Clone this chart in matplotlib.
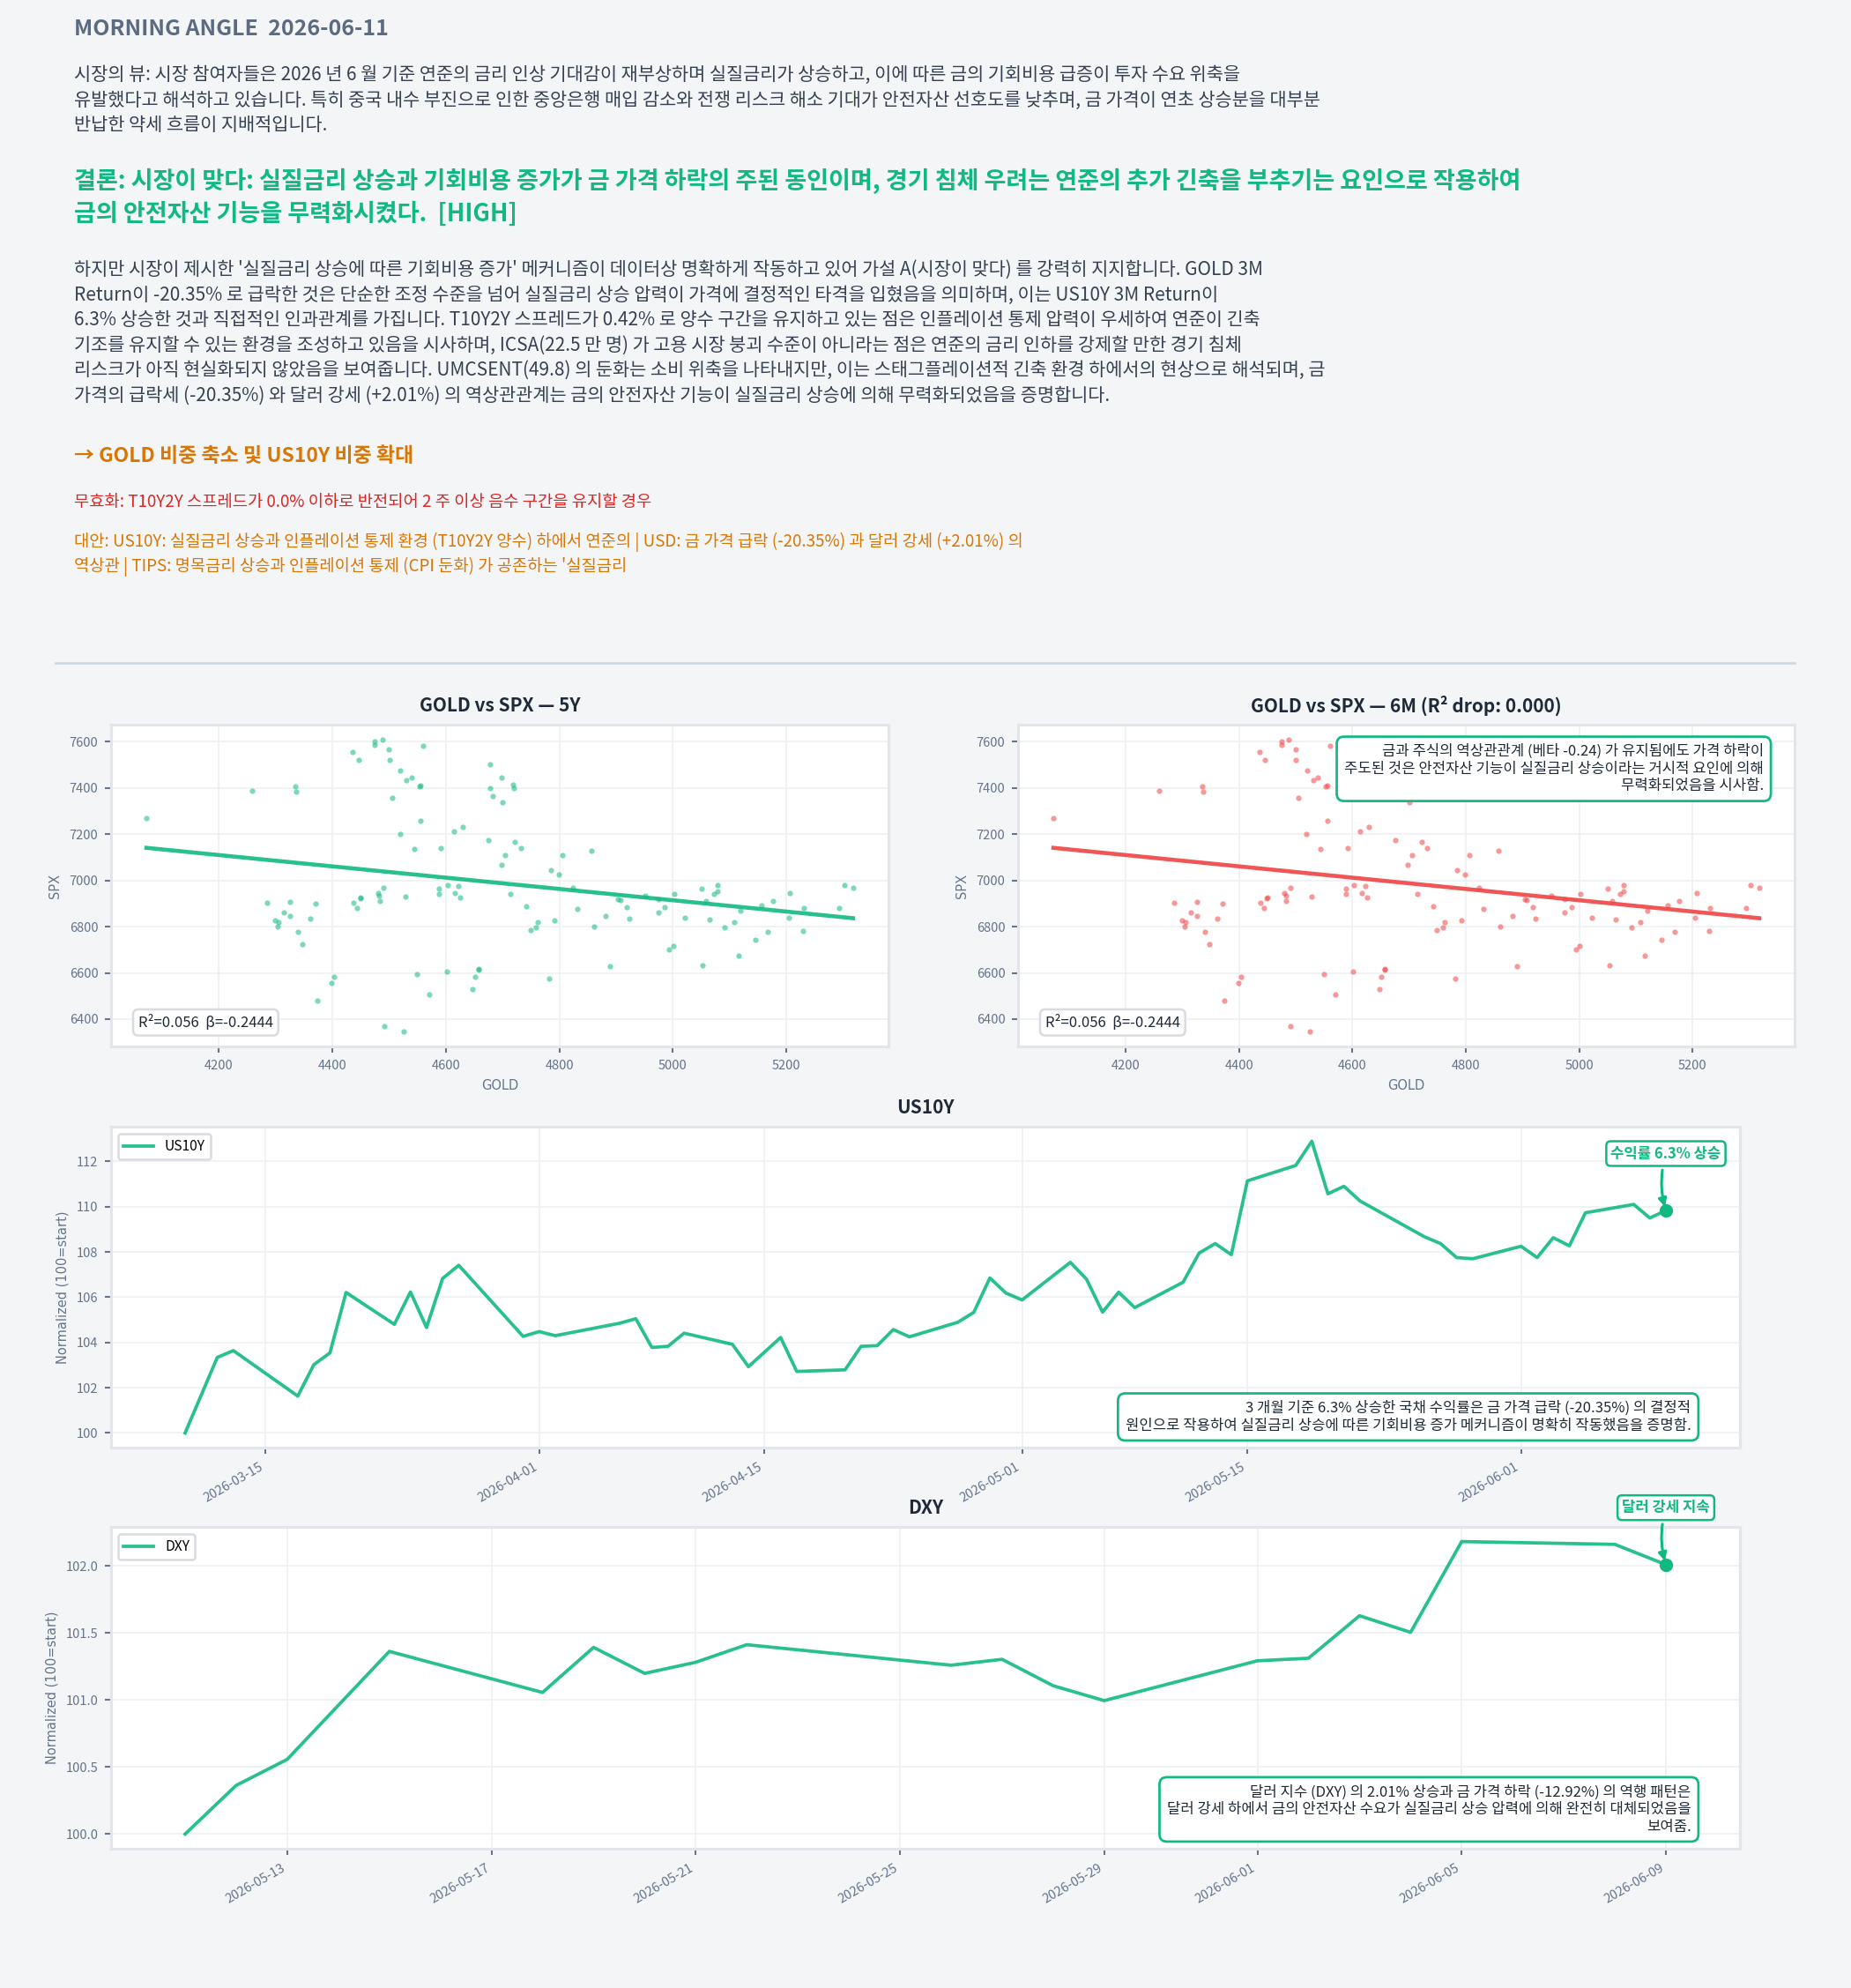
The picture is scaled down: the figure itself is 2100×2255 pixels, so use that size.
import matplotlib
matplotlib.use("Agg")
import matplotlib.pyplot as plt
import matplotlib.dates as mdates
import numpy as np
import pandas as pd

plt.rcParams['font.family'] = ['Noto Sans CJK KR', 'DejaVu Sans']

# ---- chart data ----
gold = [4072, 4259, 4335, 4336, 4285, 4299, 4305, 4304, 4314, 4325,
        4325, 4339, 4347, 4361, 4370, 4374, 4398, 4403, 4436, 4446,
        4475, 4475, 4488, 4499, 4500, 4505, 4520, 4531, 4539, 4553,
        4555, 4560, 4555, 4519, 4544, 4437, 4444, 4449, 4450, 4480,
        4482, 4483, 4490, 4528, 4491, 4525, 4549, 4570, 4591, 4588,
        4588, 4603, 4614, 4616, 4622, 4625, 4629, 4601, 4651, 4647,
        4657, 4657, 4675, 4678, 4678, 4682, 4698, 4700, 4698, 4705,
        4719, 4720, 4722, 4732, 4714, 4742, 4749, 4759, 4762, 4792,
        4782, 4785, 4799, 4806, 4824, 4831, 4857, 4861, 4882, 4890,
        4904, 4908, 4919, 4923, 4951, 4975, 4975, 4986, 4994, 5001,
        5003, 5022, 5051, 5053, 5059, 5065, 5072, 5079, 5079, 5092,
        5108, 5116, 5120, 5146, 5156, 5168, 5176, 5205, 5207, 5230,
        5231, 5294, 5302, 5318]

spx = [7268, 7387, 7408, 7385, 6903, 6829, 6819, 6802, 6861, 6906,
       6848, 6777, 6723, 6836, 6898, 6479, 6558, 6583, 7555, 7522,
       7601, 7585, 7611, 7566, 7521, 7356, 7475, 7435, 7447, 7407,
       7410, 7582, 7260, 7203, 7138, 6904, 6881, 6923, 6926, 6946,
       6933, 6912, 6968, 6932, 6371, 6345, 6593, 6508, 7141, 6965,
       6941, 6979, 7211, 6946, 6978, 6928, 7231, 6607, 6585, 6530,
       6615, 6619, 7175, 7502, 7401, 7366, 7445, 7338, 7066, 7110,
       7414, 7400, 7166, 7139, 6941, 6887, 6784, 6797, 6819, 6826,
       6577, 7043, 7025, 7111, 6969, 6877, 7128, 6800, 6845, 6627,
       6920, 6915, 6885, 6834, 6933, 6918, 6863, 6884, 6702, 6718,
       6943, 6838, 6966, 6634, 6912, 6833, 6942, 6980, 6952, 6797,
       6819, 6674, 6871, 6742, 6892, 6778, 6910, 6839, 6947, 6783,
       6880, 6882, 6979, 6970]

us10y_dates = ["2026-03-10", "2026-03-12", "2026-03-13", "2026-03-17",
               "2026-03-18", "2026-03-19", "2026-03-20", "2026-03-23",
               "2026-03-24", "2026-03-25", "2026-03-26", "2026-03-27",
               "2026-03-31", "2026-04-01", "2026-04-02", "2026-04-06",
               "2026-04-07", "2026-04-08", "2026-04-09", "2026-04-10",
               "2026-04-13", "2026-04-14", "2026-04-16", "2026-04-17",
               "2026-04-20", "2026-04-21", "2026-04-22", "2026-04-23",
               "2026-04-24", "2026-04-27", "2026-04-28", "2026-04-29",
               "2026-04-30", "2026-05-01", "2026-05-04", "2026-05-05",
               "2026-05-06", "2026-05-07", "2026-05-08", "2026-05-11",
               "2026-05-12", "2026-05-13", "2026-05-14", "2026-05-15",
               "2026-05-18", "2026-05-19", "2026-05-20", "2026-05-21",
               "2026-05-22", "2026-05-26", "2026-05-27", "2026-05-28",
               "2026-05-29", "2026-06-01", "2026-06-02", "2026-06-03",
               "2026-06-04", "2026-06-05", "2026-06-08", "2026-06-09",
               "2026-06-10"]
us10y_values = [100.00, 103.34, 103.64, 101.63,
                103.02, 103.54, 106.21, 104.80,
                106.23, 104.66, 106.83, 107.41,
                104.27, 104.48, 104.30, 104.85,
                105.05, 103.78, 103.83, 104.41,
                103.92, 102.93, 104.22, 102.72,
                102.79, 103.83, 103.86, 104.57,
                104.25, 104.89, 105.33, 106.85,
                106.18, 105.88, 107.54, 106.80,
                105.34, 106.22, 105.54, 106.66,
                107.95, 108.37, 107.88, 111.14,
                111.82, 112.89, 110.57, 110.90,
                110.25, 108.67, 108.37, 107.75,
                107.70, 108.25, 107.75, 108.63,
                108.27, 109.73, 110.10, 109.50,
                109.83]

dxy_dates = ["2026-05-11", "2026-05-12", "2026-05-13", "2026-05-15",
             "2026-05-18", "2026-05-19", "2026-05-20", "2026-05-21",
             "2026-05-22", "2026-05-26", "2026-05-27", "2026-05-28",
             "2026-05-29", "2026-06-01", "2026-06-02", "2026-06-03",
             "2026-06-04", "2026-06-05", "2026-06-08", "2026-06-09"]
dxy_values = [100.000, 100.363, 100.557, 101.362,
              101.056, 101.392, 101.198, 101.281,
              101.412, 101.259, 101.303, 101.106,
              100.995, 101.292, 101.311, 101.628,
              101.504, 102.181, 102.160, 102.009]

# ---- text ----
header_title = "MORNING ANGLE  2026-06-11"
view_lines = [
    "시장의 뷰: 시장 참여자들은 2026 년 6 월 기준 연준의 금리 인상 기대감이 재부상하며 실질금리가 상승하고, 이에 따른 금의 기회비용 급증이 투자 수요 위축을",
    "유발했다고 해석하고 있습니다. 특히 중국 내수 부진으로 인한 중앙은행 매입 감소와 전쟁 리스크 해소 기대가 안전자산 선호도를 낮추며, 금 가격이 연초 상승분을 대부분",
    "반납한 약세 흐름이 지배적입니다.",
]
verdict_lines = [
    "결론: 시장이 맞다: 실질금리 상승과 기회비용 증가가 금 가격 하락의 주된 동인이며, 경기 침체 우려는 연준의 추가 긴축을 부추기는 요인으로 작용하여",
    "금의 안전자산 기능을 무력화시켰다.  [HIGH]",
]
body_lines = [
    "하지만 시장이 제시한 '실질금리 상승에 따른 기회비용 증가' 메커니즘이 데이터상 명확하게 작동하고 있어 가설 A(시장이 맞다) 를 강력히 지지합니다. GOLD 3M",
    "Return이 -20.35% 로 급락한 것은 단순한 조정 수준을 넘어 실질금리 상승 압력이 가격에 결정적인 타격을 입혔음을 의미하며, 이는 US10Y 3M Return이",
    "6.3% 상승한 것과 직접적인 인과관계를 가집니다. T10Y2Y 스프레드가 0.42% 로 양수 구간을 유지하고 있는 점은 인플레이션 통제 압력이 우세하여 연준이 긴축",
    "기조를 유지할 수 있는 환경을 조성하고 있음을 시사하며, ICSA(22.5 만 명) 가 고용 시장 붕괴 수준이 아니라는 점은 연준의 금리 인하를 강제할 만한 경기 침체",
    "리스크가 아직 현실화되지 않았음을 보여줍니다. UMCSENT(49.8) 의 둔화는 소비 위축을 나타내지만, 이는 스태그플레이션적 긴축 환경 하에서의 현상으로 해석되며, 금",
    "가격의 급락세 (-20.35%) 와 달러 강세 (+2.01%) 의 역상관관계는 금의 안전자산 기능이 실질금리 상승에 의해 무력화되었음을 증명합니다.",
]
action_line = "→ GOLD 비중 축소 및 US10Y 비중 확대"
invalid_line = "무효화: T10Y2Y 스프레드가 0.0% 이하로 반전되어 2 주 이상 음수 구간을 유지할 경우"
alt_lines = [
    "대안: US10Y: 실질금리 상승과 인플레이션 통제 환경 (T10Y2Y 양수) 하에서 연준의 | USD: 금 가격 급락 (-20.35%) 과 달러 강세 (+2.01%) 의",
    "역상관 | TIPS: 명목금리 상승과 인플레이션 통제 (CPI 둔화) 가 공존하는 '실질금리",
]

scatter_titles = ["GOLD vs SPX — 5Y", "GOLD vs SPX — 6M (R² drop: 0.000)"]
fit_label = "R²=0.056  β=-0.2444"
scatter_note = ("금과 주식의 역상관관계 (베타 -0.24) 가 유지됨에도 가격 하락이\n"
                "주도된 것은 안전자산 기능이 실질금리 상승이라는 거시적 요인에 의해\n"
                "무력화되었음을 시사함.")
us10y_note = ("3 개월 기준 6.3% 상승한 국채 수익률은 금 가격 급락 (-20.35%) 의 결정적\n"
              "원인으로 작용하여 실질금리 상승에 따른 기회비용 증가 메커니즘이 명확히 작동했음을 증명함.")
us10y_tag = "수익률 6.3% 상승"
dxy_note = ("달러 지수 (DXY) 의 2.01% 상승과 금 가격 하락 (-12.92%) 의 역행 패턴은\n"
            "달러 강세 하에서 금의 안전자산 수요가 실질금리 상승 압력에 의해 완전히 대체되었음을\n"
            "보여줌.")
dxy_tag = "달러 강세 지속"

BG = "#f4f5f7"
GREEN = "#10b981"
RED = "#ef4444"
SLATE = "#64748b"
INK = "#374151"

W, H = 2100, 2255


def style_axes(ax):
    """Common look for every panel."""
    ax.set_facecolor("white")
    for s in ax.spines.values():
        s.set_color("#e3e5ea")
        s.set_linewidth(1.5)
    ax.grid(True, color="#eef0f3", lw=0.8)
    ax.set_axisbelow(True)
    ax.tick_params(colors=SLATE, labelcolor=SLATE, labelsize=7,
                   length=3.5, width=1)


def put_line(text, ypx, size, color, weight="normal"):
    """Place one header line, y given in pixels from the top."""
    fig.text(84 / W, 1 - ypx / H, text, fontsize=size, color=color,
             fontweight=weight, va="center", ha="left")


def draw_scatter(ax, color, title, note=None):
    style_axes(ax)
    x = np.array(gold, dtype=float)
    y = np.array(spx, dtype=float)
    ax.scatter(x, y, s=9, color=color, alpha=0.55, linewidths=0)
    slope, intercept = np.polyfit(x, y, 1)
    xs = np.array([x.min(), x.max()])
    ax.plot(xs, slope * xs + intercept, color=color, lw=2.2, alpha=0.9)
    ax.set_title(title, fontsize=10, fontweight="bold", color="#1f2937",
                 pad=7)
    ax.set_xlabel("GOLD", fontsize=7, color=SLATE, family="DejaVu Sans")
    ax.set_ylabel("SPX", fontsize=7, color=SLATE, family="DejaVu Sans")
    ax.text(0.035, 0.05, fit_label, transform=ax.transAxes, fontsize=8,
            color="#1f2937", ha="left", va="bottom",
            bbox=dict(boxstyle="round,pad=0.35", fc="white", ec="#d8dbe1",
                      lw=1.2))
    if note:
        ax.text(0.96, 0.94, note, transform=ax.transAxes, fontsize=8,
                color="#1f2937", ha="right", va="top", multialignment="right",
                bbox=dict(boxstyle="round,pad=0.5", fc="white", ec=GREEN,
                          lw=1.3))


def draw_line_panel(ax, dates, values, name, note, tag, locator):
    style_axes(ax)
    d = mdates.date2num(pd.to_datetime(dates))
    ax.plot(d, values, color=GREEN, lw=1.8, alpha=0.9, label=name)
    ax.scatter([d[-1]], [values[-1]], s=40, color=GREEN, zorder=5)
    ax.annotate(tag, xy=(d[-1], values[-1]), xytext=(0, 31),
                textcoords="offset points", ha="center", va="center",
                fontsize=8, fontweight="bold", color=GREEN,
                bbox=dict(boxstyle="round,pad=0.3", fc="white", ec=GREEN,
                          lw=1.2),
                arrowprops=dict(arrowstyle="-|>", color=GREEN, lw=1.5,
                                mutation_scale=9,
                                connectionstyle="arc3,rad=0.15"),
                annotation_clip=False)
    ax.text(0.97, 0.045, note, transform=ax.transAxes, fontsize=8,
            color="#1f2937", ha="right", va="bottom", multialignment="right",
            bbox=dict(boxstyle="round,pad=0.5", fc="white", ec=GREEN, lw=1.3))
    ax.set_title(name, fontsize=10, fontweight="bold", color="#1f2937",
                 pad=7)
    ax.set_ylabel("Normalized (100=start)", fontsize=7, color=SLATE,
                  family="DejaVu Sans")
    ax.xaxis.set_major_locator(locator)
    ax.xaxis.set_major_formatter(mdates.DateFormatter("%Y-%m-%d"))
    for lab in ax.get_xticklabels():
        lab.set_rotation(30)
        lab.set_ha("right")
    leg = ax.legend(loc="upper left", fontsize=7.5, frameon=True,
                    facecolor="white", edgecolor="#d8dbe1", framealpha=1,
                    handlelength=2.2)
    leg.get_frame().set_linewidth(1.2)


fig = plt.figure(figsize=(W / 150, H / 150), dpi=150, facecolor=BG)

put_line(header_title, 33, 12, "#5b6b82", "bold")
for i, line in enumerate(view_lines):
    put_line(line, 85 + 28.5 * i, 10, INK)
for i, line in enumerate(verdict_lines):
    put_line(line, 205 + 38 * i, 13, GREEN, "bold")
for i, line in enumerate(body_lines):
    put_line(line, 306 + 28.5 * i, 10, INK)
put_line(action_line, 518, 11, "#d97706", "bold")
put_line(invalid_line, 570, 9, "#dc2626")
for i, line in enumerate(alt_lines):
    put_line(line, 615 + 28 * i, 9, "#d97706")

fig.add_artist(plt.Line2D([63 / W, 2036 / W], [1 - 752 / H, 1 - 752 / H],
                          color="#cbd5e1", lw=1.2))

ax1 = fig.add_axes([126 / W, 1 - 1187 / H, 882 / W, 365 / H])
ax2 = fig.add_axes([1155 / W, 1 - 1187 / H, 881 / W, 365 / H])
ax3 = fig.add_axes([126 / W, 1 - 1642 / H, 1848 / W, 364 / H])
ax4 = fig.add_axes([126 / W, 1 - 2097 / H, 1848 / W, 365 / H])

draw_scatter(ax1, GREEN, scatter_titles[0])
draw_scatter(ax2, RED, scatter_titles[1], scatter_note)

draw_line_panel(ax3, us10y_dates, us10y_values, "US10Y", us10y_note,
                us10y_tag, mdates.DayLocator(bymonthday=[1, 15]))
draw_line_panel(ax4, dxy_dates, dxy_values, "DXY", dxy_note, dxy_tag,
                mdates.DayLocator(bymonthday=list(range(1, 32, 4))))

fig.savefig("out.png", dpi=150, facecolor=BG)
